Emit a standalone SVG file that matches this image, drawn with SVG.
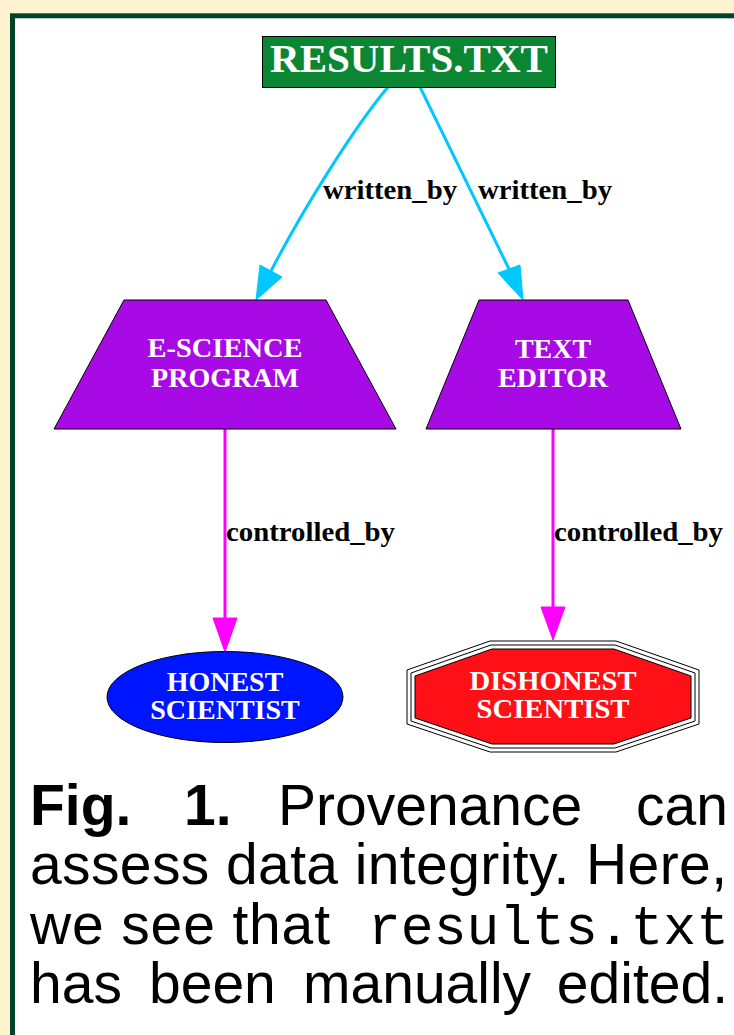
<svg xmlns="http://www.w3.org/2000/svg" width="734" height="1035" viewBox="0 0 734 1035">
<style>
.lbl{font-family:"Liberation Serif","Times New Roman",serif;font-weight:bold;fill:#fff;text-anchor:middle}
.elbl{font-family:"Liberation Serif","Times New Roman",serif;font-weight:bold;fill:#000;font-size:28px}
.cap{font-family:"Liberation Sans",Arial,sans-serif;font-size:57px;fill:#000}
.mono{font-family:"Liberation Mono","Courier New",monospace;font-size:55px;fill:#000}
.cy{stroke:#00c8ff;stroke-width:3;fill:none}
.cyh{fill:#00c8ff;stroke:#00c8ff;stroke-width:1}
.mg{stroke:#ff00ff;stroke-width:3;fill:none}
.mgh{fill:#ff00ff;stroke:#ff00ff;stroke-width:1}
.ol{stroke:#000;stroke-width:1}
</style>
<rect x="0" y="0" width="734" height="1035" fill="#fff3d0"/>
<rect x="12.5" y="15.8" width="800" height="1100" fill="#ffffff" stroke="#00432a" stroke-width="5"/>

<g id="connectors">
<path class="cy" d="M388,87 C352,130 301,213 271,271"/>
<polygon class="cyh" points="256,300 260,265 282,277"/>
<text class="elbl" x="323" y="199" textLength="134" lengthAdjust="spacingAndGlyphs">written_by</text>
<path class="cy" d="M420,87 L509,269"/>
<polygon class="cyh" points="523,300 498,273 520,265"/>
<text class="elbl" x="478" y="199" textLength="134" lengthAdjust="spacingAndGlyphs">written_by</text>
<path class="mg" d="M225,429 L225,618"/>
<polygon class="mgh" points="213,618 237,618 225,652"/>
<text class="elbl" x="226" y="541" textLength="169" lengthAdjust="spacingAndGlyphs">controlled_by</text>
<path class="mg" d="M553,429 L553,607"/>
<polygon class="mgh" points="541,607 565,607 553,640"/>
<text class="elbl" x="554" y="541" textLength="169" lengthAdjust="spacingAndGlyphs">controlled_by</text>
</g>

<g id="results">
<rect x="262.5" y="36.5" width="293" height="51" fill="#0b8733" class="ol"/>
<text class="lbl" x="409" y="72" font-size="40" textLength="278" lengthAdjust="spacingAndGlyphs">RESULTS.TXT</text>
</g>

<g id="escience">
<polygon points="124,300 326,300 396,429 54,429" fill="#a80ae6" class="ol"/>
<text class="lbl" x="225" y="357" font-size="28" textLength="155" lengthAdjust="spacingAndGlyphs">E-SCIENCE</text>
<text class="lbl" x="225" y="387" font-size="28">PROGRAM</text>
</g>

<g id="texteditor">
<polygon points="479,300 628,300 681,429 426,429" fill="#a80ae6" class="ol"/>
<text class="lbl" x="553" y="358" font-size="28">TEXT</text>
<text class="lbl" x="553" y="387" font-size="28">EDITOR</text>
</g>

<g id="honest">
<ellipse cx="225" cy="697" rx="118" ry="45.5" fill="#0015ff" class="ol"/>
<text class="lbl" x="225" y="691" font-size="28">HONEST</text>
<text class="lbl" x="225" y="719" font-size="28">SCIENTIST</text>
</g>

<g id="dishonest">
<polygon points="490,641 616,641 699,670 699,724 616,752 490,752 407,724 407,670" fill="#fff" class="ol"/>
<polygon points="491,645 615,645 695,673 695,721 615,748 491,748 411,721 411,673" fill="#fff" class="ol"/>
<polygon points="492,649 614,649 691,676 691,718 614,744 492,744 415,718 415,676" fill="#ff1016" class="ol"/>
<text class="lbl" x="553" y="690" font-size="28" textLength="167" lengthAdjust="spacingAndGlyphs">DISHONEST</text>
<text class="lbl" x="553" y="718" font-size="28" textLength="153" lengthAdjust="spacingAndGlyphs">SCIENTIST</text>
</g>

<g id="caption">
<text class="cap" x="30" y="825" font-weight="bold">Fig.</text>
<text class="cap" x="184" y="825" font-weight="bold">1.</text>
<text class="cap" x="278" y="825">Provenance</text>
<text class="cap" x="728" y="825" text-anchor="end">can</text>
<text class="cap" x="30" y="884" textLength="697" lengthAdjust="spacing">assess data integrity. Here,</text>
<text class="cap" x="30" y="944" textLength="300" lengthAdjust="spacing">we see that</text>
<text class="mono" x="368" y="944" textLength="361" lengthAdjust="spacingAndGlyphs">results.txt</text>
<text class="cap" x="30" y="1003">has</text>
<text class="cap" x="149" y="1003">been</text>
<text class="cap" x="303" y="1003">manually</text>
<text class="cap" x="728" y="1003" text-anchor="end">edited.</text>
</g>
</svg>
